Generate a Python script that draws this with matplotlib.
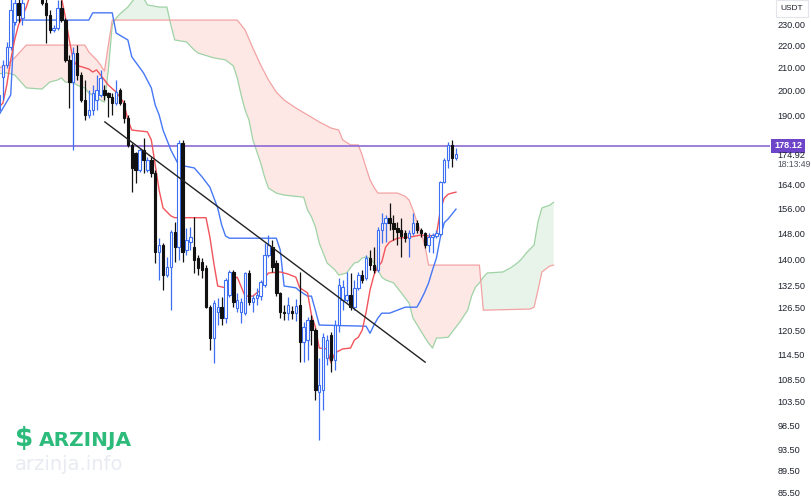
import numpy as np
import matplotlib
matplotlib.use("Agg")
import matplotlib.pyplot as plt
from matplotlib.ticker import NullLocator, NullFormatter
from matplotlib.transforms import blended_transform_factory

# ---------------- data (prices in USDT, bar index = time) ----------------
opens = [192.1, 206.0, 211.3, 219.5, 231.4, 241.0, 233.4, 244.0, 250.0, 247.0,
         252.0, 247.7, 241.0, 234.9, 227.6, 228.5, 238.4, 232.4, 213.6, 203.8,
         216.7, 206.9, 196.2, 190.1, 192.1, 196.2, 198.3, 200.4, 199.1, 197.4,
         194.9, 200.4, 194.9, 188.9, 178.4, 175.4, 169.2, 176.5, 169.2, 172.8,
         168.1, 142.2, 144.3, 135.4, 137.8, 148.4, 143.7, 179.1, 142.8, 145.2,
         143.7, 140.4, 139.2, 137.5, 126.5, 118.5, 125.2, 126.5, 123.6, 129.8,
         136.3, 126.2, 125.2, 124.9, 136.0, 127.9, 129.0, 129.5, 132.6, 141.3,
         143.7, 138.9, 130.4, 125.2, 124.9, 125.4, 125.0, 127.0, 117.5, 118.0,
         123.1, 120.5, 105.6, 106.1, 113.6, 119.2, 113.1, 121.8, 128.4, 128.4,
         129.8, 126.5, 131.8, 135.4, 134.6, 140.4, 138.3, 136.9, 149.0, 151.2,
         152.9, 151.2, 149.6, 149.0, 148.1, 146.4, 148.1, 151.2, 149.0, 148.1,
         144.3, 146.7, 147.1, 147.7, 164.9, 172.8, 178.4, 173.5]
highs = [204.7, 213.6, 221.9, 243.5, 245.1, 245.1, 244.0, 253.0, 256.0, 255.0,
         254.0, 250.3, 245.1, 237.4, 230.0, 242.5, 242.5, 233.4, 215.8, 219.5,
         220.4, 208.2, 204.7, 200.4, 202.5, 206.9, 209.1, 202.5, 199.5, 199.1,
         204.7, 201.3, 196.2, 190.1, 179.1, 175.8, 177.2, 181.1, 173.9, 173.9,
         169.2, 146.4, 144.9, 140.7, 149.0, 151.6, 180.3, 180.3, 149.6, 149.9,
         153.2, 141.3, 140.4, 138.3, 127.0, 128.4, 128.9, 129.2, 134.6, 136.9,
         136.9, 130.4, 128.9, 136.3, 136.9, 129.8, 131.8, 134.0, 145.0, 147.5,
         145.8, 139.8, 130.6, 127.0, 129.2, 126.7, 128.6, 136.3, 122.6, 123.9,
         124.4, 121.0, 113.6, 119.7, 119.2, 120.0, 123.1, 134.6, 134.0, 136.3,
         136.0, 134.0, 136.3, 136.9, 141.3, 142.8, 143.7, 150.0, 154.4, 153.8,
         157.7, 153.8, 151.6, 152.9, 149.0, 149.0, 154.4, 152.2, 149.6, 148.4,
         148.1, 148.1, 149.0, 165.3, 173.5, 179.4, 180.3, 177.1]
lows = [186.9, 196.2, 210.0, 218.1, 230.0, 231.4, 230.0, 243.5, 245.0, 245.0,
        244.0, 240.0, 221.4, 226.2, 226.6, 227.6, 231.4, 212.7, 192.9, 176.5,
        204.7, 195.4, 188.1, 188.9, 190.1, 192.1, 197.4, 196.2, 189.3, 190.1,
        194.1, 194.1, 186.9, 177.7, 161.4, 164.6, 168.5, 168.1, 168.5, 166.7,
        138.9, 134.0, 131.2, 134.8, 125.7, 139.2, 139.8, 139.2, 141.3, 142.8,
        136.0, 135.4, 134.6, 126.2, 115.5, 112.4, 121.8, 121.8, 122.3, 129.2,
        126.5, 125.2, 122.3, 124.4, 127.0, 125.2, 127.0, 128.4, 132.0, 140.7,
        136.3, 129.5, 123.6, 123.1, 123.1, 123.4, 122.8, 112.6, 112.6, 113.1,
        116.7, 103.9, 95.5, 101.7, 111.9, 110.2, 110.7, 120.0, 125.7, 127.9,
        125.7, 125.7, 131.2, 133.1, 134.0, 136.9, 136.0, 136.3, 144.9, 145.2,
        149.0, 145.8, 144.3, 140.7, 145.2, 140.7, 147.4, 148.1, 146.7, 143.4,
        142.2, 141.9, 146.4, 147.1, 164.6, 169.9, 170.2, 172.8]
closes = [198.3, 211.3, 219.5, 237.4, 241.0, 234.9, 241.0, 250.0, 247.0, 252.0,
          246.0, 241.0, 234.9, 227.6, 228.5, 238.4, 232.4, 213.6, 203.8, 216.7,
          206.9, 196.2, 190.1, 192.1, 199.1, 200.4, 205.6, 198.3, 197.4, 194.9,
          199.5, 194.9, 188.9, 178.4, 169.9, 169.2, 176.5, 172.8, 172.8, 168.1,
          142.2, 144.3, 135.4, 137.8, 148.4, 143.7, 179.1, 142.2, 145.8, 146.7,
          139.8, 137.5, 136.9, 126.5, 118.5, 127.6, 126.5, 123.6, 134.0, 136.3,
          127.9, 128.4, 127.9, 136.0, 127.9, 129.0, 129.8, 133.4, 141.3, 144.3,
          137.8, 130.4, 125.2, 124.9, 127.0, 124.9, 126.8, 117.5, 121.3, 123.1,
          120.5, 106.1, 107.2, 118.7, 118.0, 113.1, 121.8, 132.6, 132.0, 129.8,
          126.5, 131.8, 135.4, 134.0, 140.4, 138.3, 136.9, 149.0, 151.2, 152.9,
          151.2, 149.3, 148.4, 147.1, 146.4, 148.1, 151.2, 149.0, 148.1, 144.3,
          146.7, 147.4, 148.1, 164.9, 172.8, 178.4, 173.5, 174.92]

tenkan_bar = [0, 1, 2, 3, 4, 5, 7, 8, 12, 16, 17, 18, 19, 20, 21, 23, 24, 25, 27, 28,
              30, 31, 32, 33, 34, 38, 39, 40, 41, 42, 44, 45, 53, 54, 55, 56, 58, 60,
              61, 63, 65, 66, 67, 68, 69, 72, 74, 76, 77, 79, 80, 81, 82, 84, 85, 86,
              88, 90, 91, 92, 93, 94, 95, 96, 97, 98, 99, 100, 101, 102, 105, 108,
              110, 112, 113, 114, 115, 116, 117]
tenkan_val = [193.3, 194.9, 202.5, 213.6, 222.8, 230.0, 238.9, 245.1, 247.0, 243.5,
              233.9, 222.8, 213.6, 211.0, 210.6, 209.5, 208.2, 209.1, 204.7, 202.5,
              199.5, 197.4, 194.9, 188.1, 184.1, 183.4, 180.3, 171.0, 162.1, 156.1,
              153.5, 152.9, 152.9, 146.7, 138.9, 132.3, 131.8, 134.3, 134.8, 129.5,
              129.5, 130.4, 131.2, 134.6, 136.0, 136.3, 135.7, 134.8, 131.8, 130.4,
              124.4, 121.3, 116.0, 115.8, 112.4, 114.8, 115.8, 116.0, 118.0, 118.7,
              120.5, 125.2, 131.2, 135.4, 137.8, 139.2, 143.7, 145.2, 145.8, 146.4,
              146.7, 147.4, 147.1, 147.4, 155.4, 159.4, 160.7, 161.1, 161.4]

kijun_bar = [0, 3, 4, 23, 24, 29, 30, 33, 34, 37, 39, 40, 41, 42, 44, 45, 46, 50, 52,
             54, 56, 57, 58, 59, 71, 72, 73, 76, 77, 79, 80, 81, 82, 94, 95, 96, 97,
             98, 100, 104, 107, 108, 109, 110, 111, 112, 113, 114, 115, 116, 117]
kijun_val = [190.1, 198.3, 232.4, 232.4, 236.0, 236.0, 226.1, 222.8, 215.0, 207.8,
             201.3, 194.1, 190.1, 184.1, 176.5, 173.7, 171.0, 169.9, 166.7, 163.1,
             156.1, 150.6, 147.1, 146.4, 146.4, 142.8, 132.3, 131.8, 130.9, 129.5,
             129.5, 125.7, 121.8, 121.5, 119.7, 121.8, 123.6, 124.9, 124.9, 126.5,
             126.5, 128.4, 130.6, 133.2, 136.9, 140.4, 146.7, 151.3, 152.5, 154.1,
             155.7]

span_a_bar = [0, 2, 4, 7, 11, 13, 15, 16, 17, 19, 21, 22, 23, 25, 26, 27, 28, 29, 30,
              31, 33, 34, 35, 36, 37, 38, 41, 43, 44, 45, 48, 50, 51, 55, 58, 60, 61,
              62, 63, 64, 65, 67, 68, 69, 71, 73, 78, 79, 80, 81, 82, 83, 84, 86, 87,
              89, 90, 91, 92, 93, 94, 95, 96, 97, 98, 99, 101, 103, 105, 106, 109,
              110, 111, 112, 113, 115, 118, 120, 121, 122, 123, 124, 125, 129, 131,
              132, 133, 134, 135, 137, 138, 139, 141, 142]
span_a_val = [207.4, 207.8, 206.9, 201.3, 200.8, 203.8, 204.7, 205.6, 203.8, 203.4,
              201.7, 201.3, 199.1, 197.4, 196.2, 195.3, 209.1, 230.0, 233.4, 235.5,
              238.9, 241.5, 244.1, 245.1, 243.6, 240.0, 238.9, 238.9, 230.0, 222.8,
              221.9, 218.1, 216.7, 214.5, 213.6, 210.9, 205.6, 198.3, 192.1, 188.1,
              180.3, 171.7, 166.7, 162.8, 161.1, 160.4, 159.7, 155.4, 153.2, 150.0,
              144.9, 141.9, 138.9, 136.9, 135.4, 136.0, 137.5, 138.9, 139.2, 140.4,
              140.7, 140.4, 138.9, 136.9, 134.8, 134.0, 133.2, 130.4, 127.6, 123.6,
              118.7, 117.2, 116.0, 118.5, 118.5, 118.7, 122.6, 125.7, 129.5, 132.0,
              133.2, 134.8, 136.0, 136.3, 137.5, 138.3, 139.2, 140.4, 141.9, 144.3,
              151.6, 156.1, 157.0, 158.0]

span_b_bar = [0, 2, 4, 7, 22, 23, 25, 26, 27, 28, 29, 61, 63, 65, 67, 69, 71, 73, 76,
              79, 82, 85, 87, 88, 90, 92, 93, 94, 95, 96, 97, 102, 104, 105, 106, 107,
              108, 109, 110, 123, 124, 136, 137, 138, 139, 141, 142]
span_b_val = [210.0, 211.3, 214.5, 220.4, 220.4, 217.2, 213.6, 211.3, 208.6, 220.4,
              232.4, 232.4, 227.6, 219.0, 211.3, 204.7, 199.5, 196.2, 192.9, 190.1,
              187.3, 184.9, 184.1, 180.3, 178.4, 178.4, 174.5, 169.9, 165.6, 163.1,
              161.1, 161.1, 160.0, 158.7, 155.4, 151.6, 148.4, 144.3, 138.3, 138.3,
              125.7, 126.0, 126.5, 131.2, 136.3, 138.0, 138.3]

trend_bar = [27.1, 109.1]
trend_val = [187.3, 112.6]

hline_price = 178.12
last_price = 174.92
last_time = "18:13:49"
y_ticks = [230.0, 220.0, 210.0, 200.0, 190.0, 164.0, 156.0, 148.0, 140.0, 132.5,
           126.5, 120.5, 114.5, 108.5, 103.5, 98.5, 93.5, 89.5, 85.5]

# ---------------- styling ----------------
UP = "#3D6FF2"
DOWN = "#111111"
TENKAN = "#F2545B"
KIJUN = "#4677F5"
SPAN_A = "#9FD3A5"
SPAN_B = "#F3A3A3"
FILL_UP = "#E8F4E9"
FILL_DN = "#FDE8E6"
PURPLE = "#8B6AD6"
AXFONT = "Liberation Sans"

W, H = 811, 501
fig = plt.figure(figsize=(W / 100, H / 100), dpi=100)
fig.patch.set_facecolor("white")
ax = fig.add_axes([0, 0, 770 / W, 1])
ax.set_facecolor("white")
ax.set_yscale("log")
ax.set_ylim(83.9, 242.5)
ax.set_xlim(0.26, 197.4)

# cloud
kk = np.linspace(min(span_a_bar), max(span_a_bar), 3000)
a = np.exp(np.interp(kk, span_a_bar, np.log(span_a_val)))
b = np.exp(np.interp(kk, span_b_bar, np.log(span_b_val)))
ax.fill_between(kk, a, b, where=a >= b, interpolate=True, color=FILL_UP, lw=0, zorder=1)
ax.fill_between(kk, a, b, where=a < b, interpolate=True, color=FILL_DN, lw=0, zorder=1)
ax.plot(span_a_bar, span_a_val, color=SPAN_A, lw=0.9, zorder=2)
ax.plot(span_b_bar, span_b_val, color=SPAN_B, lw=0.9, zorder=2)

# horizontal level
ax.axhline(hline_price, color=PURPLE, lw=1.2, zorder=3)

# lines
ax.plot(kijun_bar, kijun_val, color=KIJUN, lw=1.0, zorder=4)
ax.plot(tenkan_bar, tenkan_val, color=TENKAN, lw=1.0, zorder=4)

# candles
idx = np.arange(len(opens))
o = np.array(opens); c = np.array(closes); h = np.array(highs); l = np.array(lows)
up = c >= o
for mask, col, face in ((up, UP, "white"), (~up, DOWN, DOWN)):
    ax.vlines(idx[mask], l[mask], h[mask], color=col, lw=0.9, zorder=5)
    bottom = np.minimum(o, c)[mask]
    height = np.abs(c - o)[mask]
    height = np.maximum(height, bottom * 0.002)
    ax.bar(idx[mask], height, bottom=bottom, width=0.62, facecolor=face,
           edgecolor=col, linewidth=0.8, zorder=6)

# trend line
ax.plot(trend_bar, trend_val, color="#222222", lw=1.0, zorder=7)

# axes styling
for s in ax.spines.values():
    s.set_visible(False)
ax.set_xticks([])
ax.yaxis.tick_right()
ax.yaxis.set_minor_locator(NullLocator())
ax.yaxis.set_minor_formatter(NullFormatter())
ax.set_yticks(y_ticks)
ax.set_yticklabels([f"{v:.2f}" for v in y_ticks], fontfamily=AXFONT)
ax.tick_params(axis="y", length=0, pad=5.5, labelsize=6.6, labelcolor="#1E222D")

trans = blended_transform_factory(ax.transAxes, ax.transData)
ax.text(1.0 + 18.0 / 770, hline_price, f"{hline_price:.2f}", transform=trans,
        ha="center", va="center", fontsize=6.6, color="white", fontweight="bold",
        family=AXFONT,
        bbox=dict(boxstyle="square,pad=0.28", fc="#6E45C8", ec="none"), clip_on=False)
ax.annotate(f"{last_price:.2f}", xy=(1.0, last_price), xycoords=trans,
            xytext=(5.0, -0.6), textcoords="offset points", ha="left", va="center",
            fontsize=6.6, color="#1E222D", family=AXFONT, annotation_clip=False)
ax.annotate(last_time, xy=(1.0, last_price), xycoords=trans,
            xytext=(5.0, -7.2), textcoords="offset points", ha="left", va="center",
            fontsize=6.2, color="#50535E", family=AXFONT, annotation_clip=False)

fig.text(792 / W, 1 - 8.5 / H, "USDT", ha="center", va="center", fontsize=6.0,
         color="#1E222D", family=AXFONT,
         bbox=dict(boxstyle="square,pad=0.55", fc="white", ec="#E3E5EA", lw=0.8))

# watermark
GREEN = "#2DBB7C"
fig.text(24 / W, 1 - 439 / H, "$", ha="center", va="center", fontsize=19,
         fontweight="bold", color=GREEN)
fig.text(39 / W, 1 - 440 / H, "ARZINJA", ha="left", va="center", fontsize=14.5,
         fontweight="bold", color=GREEN)
fig.text(15 / W, 1 - 464 / H, "arzinja.info", ha="left", va="center", fontsize=14,
         color="#E9EBF2")

fig.savefig("out.png", dpi=100)
